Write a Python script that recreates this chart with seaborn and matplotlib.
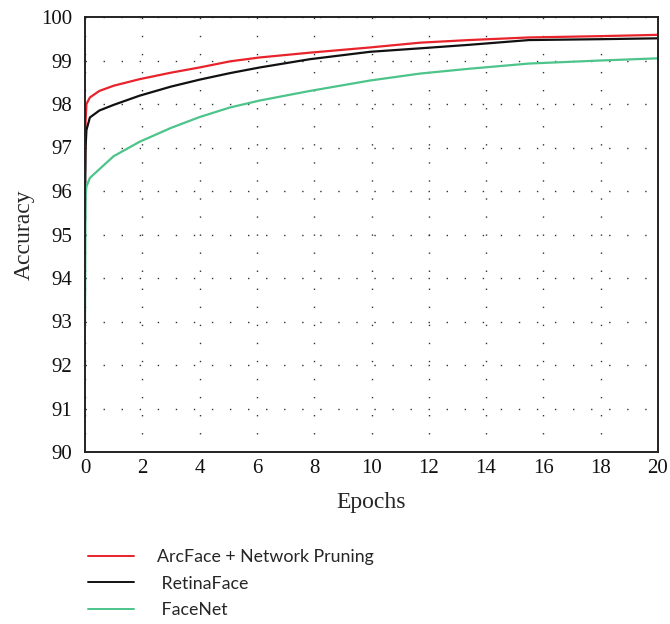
import numpy as np
import pandas as pd
import matplotlib
matplotlib.use("Agg")
import matplotlib.pyplot as plt
import seaborn as sns

# -----------------------------
# Data
# -----------------------------
epochs = [0, 0.02, 0.05, 0.17, 0.5, 1, 1.9, 3, 4, 5.06, 6.1, 7.85, 9.95,
          11.7, 13.4, 15.5, 18, 20]
arcface_pruning = [96.4, 97.6, 98.0, 98.15, 98.3, 98.42, 98.57, 98.72, 98.84,
                   98.98, 99.07, 99.18, 99.3, 99.41, 99.47, 99.53, 99.56, 99.59]
retinaface = [95.3, 97.0, 97.4, 97.69, 97.85, 97.98, 98.19, 98.4, 98.56,
              98.71, 98.84, 99.03, 99.2, 99.28, 99.36, 99.47, 99.49, 99.51]
facenet = [93.0, 95.9, 96.1, 96.3, 96.5, 96.8, 97.13, 97.45, 97.7, 97.92,
           98.08, 98.3, 98.54, 98.7, 98.81, 98.93, 99.0, 99.05]

labels = ["ArcFace + Network Pruning", " RetinaFace", " FaceNet"]
colors = ["#e8232b", "#111111", "#4cc48a"]
x_ticks = list(range(0, 21, 2))
y_ticks = list(range(90, 101))

df = pd.DataFrame({
    "Epochs": epochs * 3,
    "Accuracy": arcface_pruning + retinaface + facenet,
    "model": [labels[0]] * len(epochs) + [labels[1]] * len(epochs)
             + [labels[2]] * len(epochs),
})

sns.set_style("white")
plt.rcParams["font.family"] = ["Liberation Serif", "DejaVu Serif"]

fig = plt.figure(figsize=(6.7, 6.24), dpi=100)
ax = fig.add_axes([85 / 670, 1 - 452 / 624, (658 - 85) / 670, (452 - 17) / 624])

sns.lineplot(data=df, x="Epochs", y="Accuracy", hue="model",
             hue_order=labels, palette=colors, linewidth=1.6, ax=ax,
             legend=False)

ax.set_xlim(0, 20)
ax.set_ylim(90, 100)
ax.set_xticks(x_ticks)
ax.set_yticks(y_ticks)
ax.tick_params(axis="both", length=0, labelsize=15, colors="#111111")
ax.tick_params(axis="y", pad=9)
ax.tick_params(axis="x", pad=5)
ax.grid(True, color="#333333", linestyle=(0, (1, 12)), linewidth=1.0)
for s in ax.spines.values():
    s.set_color("#222222")
    s.set_linewidth(1.4)

ax.set_xlabel("Epochs", fontsize=17, labelpad=10)
ax.set_ylabel("Accuracy", fontsize=17, labelpad=5)

# legend below the plot
handles = [plt.Line2D([], [], color=c, linewidth=1.4) for c in colors]
fig.legend(handles, labels, loc="upper left",
           bbox_to_anchor=(72 / 670, 1 - 533 / 624), frameon=False,
           prop={"family": "Lato", "size": 12.8},
           handlelength=2.6, handletextpad=1.3, labelspacing=0.6)

fig.savefig("out.png", dpi=100)
